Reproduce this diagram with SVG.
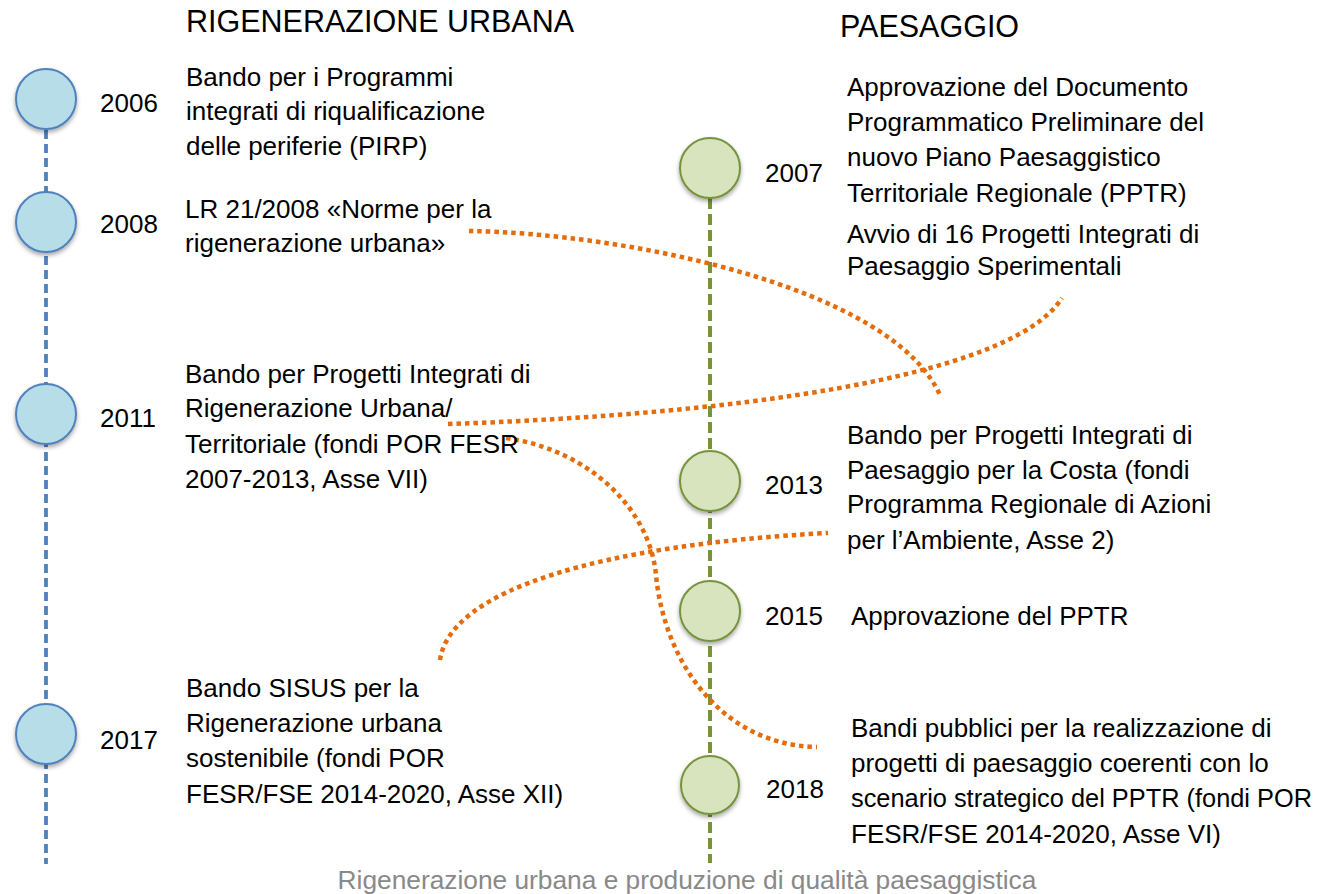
<svg xmlns="http://www.w3.org/2000/svg" width="1324" height="894" viewBox="0 0 1324 894">
<defs>
<filter id="sh" x="-30%" y="-30%" width="160%" height="170%">
<feDropShadow dx="0" dy="2.5" stdDeviation="2" flood-color="#000" flood-opacity="0.35"/>
</filter>
</defs>
<style>
text{font-family:"Liberation Sans",Arial,sans-serif;fill:#000;}
.title{font-size:30.5px;}
.body{font-size:26px;}
.year{font-size:26px;}
.cap{font-size:26.3px;fill:#898989;}
.blue{fill:#b7dde8;stroke:#4f81bd;stroke-width:2;filter:url(#sh);}
.green{fill:#d7e4bd;stroke:#77933c;stroke-width:2;filter:url(#sh);}
.bline{stroke:#4f81bd;stroke-width:3.8;stroke-dasharray:9 5;fill:none;}
.gline{stroke:#77933c;stroke-width:4;stroke-dasharray:11 5;fill:none;}
.dot{stroke:#e46c0a;stroke-width:4.5;stroke-dasharray:4.5 4;fill:none;}
</style>
<rect width="1324" height="894" fill="#fff"/>
<text class="title" x="186" y="32">RIGENERAZIONE URBANA</text>
<text class="title" x="840" y="37">PAESAGGIO</text>
<g id="connectors">
<line class="bline" x1="46" y1="130" x2="46" y2="864"/>
<line class="gline" x1="710" y1="198" x2="710" y2="863"/>
<path class="dot" d="M469,231 C620,233 890,285 940,395"/>
<path class="dot" d="M448,424 C720,415 1010,380 1062,298"/>
<path class="dot" d="M506,438 C590,450 650,510 656,575 C664,660 720,745 817,747"/>
<path class="dot" d="M440,660 C450,590 600,545 828,533"/>
</g>
<g id="n2006">
<circle class="blue" cx="46" cy="99" r="30"/>
<text class="year" x="100" y="112">2006</text>
<text class="body" x="186" y="86">Bando per i Programmi</text>
<text class="body" x="186" y="120">integrati di riqualificazione</text>
<text class="body" x="186" y="155">delle periferie (PIRP)</text>
</g>
<g id="n2008">
<circle class="blue" cx="46" cy="222" r="30"/>
<text class="year" x="100" y="233">2008</text>
<text class="body" x="185" y="218">LR 21/2008 «Norme per la</text>
<text class="body" x="185" y="252">rigenerazione urbana»</text>
</g>
<g id="n2011">
<circle class="blue" cx="46" cy="414" r="30"/>
<text class="year" x="100" y="427">2011</text>
<text class="body" x="185" y="383">Bando per Progetti Integrati di</text>
<text class="body" x="185" y="417">Rigenerazione Urbana/</text>
<text class="body" x="185" y="453">Territoriale (fondi POR FESR</text>
<text class="body" x="185" y="488">2007-2013, Asse VII)</text>
</g>
<g id="n2017">
<circle class="blue" cx="46" cy="734" r="30"/>
<text class="year" x="100" y="749">2017</text>
<text class="body" x="186" y="697">Bando SISUS per la</text>
<text class="body" x="186" y="732">Rigenerazione urbana</text>
<text class="body" x="186" y="767">sostenibile (fondi POR</text>
<text class="body" x="186" y="803">FESR/FSE 2014-2020, Asse XII)</text>
</g>
<g id="n2007">
<circle class="green" cx="710" cy="168" r="30"/>
<text class="year" x="765" y="182">2007</text>
<text class="body" x="847" y="96">Approvazione del Documento</text>
<text class="body" x="847" y="131">Programmatico Preliminare del</text>
<text class="body" x="847" y="166">nuovo Piano Paesaggistico</text>
<text class="body" x="847" y="202">Territoriale Regionale (PPTR)</text>
<text class="body" x="847" y="243">Avvio di 16 Progetti Integrati di</text>
<text class="body" x="847" y="275">Paesaggio Sperimentali</text>
</g>
<g id="n2013">
<circle class="green" cx="710" cy="481" r="30"/>
<text class="year" x="765" y="494">2013</text>
<text class="body" x="847" y="444">Bando per Progetti Integrati di</text>
<text class="body" x="847" y="479">Paesaggio per la Costa (fondi</text>
<text class="body" x="847" y="513">Programma Regionale di Azioni</text>
<text class="body" x="847" y="549">per l’Ambiente, Asse 2)</text>
</g>
<g id="n2015">
<circle class="green" cx="710" cy="611" r="30"/>
<text class="year" x="765" y="625">2015</text>
<text class="body" x="851" y="625">Approvazione del PPTR</text>
</g>
<g id="n2018">
<circle class="green" cx="710" cy="785" r="29"/>
<text class="year" x="766" y="798">2018</text>
<text class="body" x="851" y="737">Bandi pubblici per la realizzazione di</text>
<text class="body" x="851" y="772">progetti di paesaggio coerenti con lo</text>
<text class="body" x="851" y="807" textLength="461" lengthAdjust="spacingAndGlyphs">scenario strategico del PPTR (fondi POR</text>
<text class="body" x="851" y="843">FESR/FSE 2014-2020, Asse VI)</text>
</g>
<text class="cap" x="687" y="889" text-anchor="middle">Rigenerazione urbana e produzione di qualità paesaggistica</text>
</svg>
